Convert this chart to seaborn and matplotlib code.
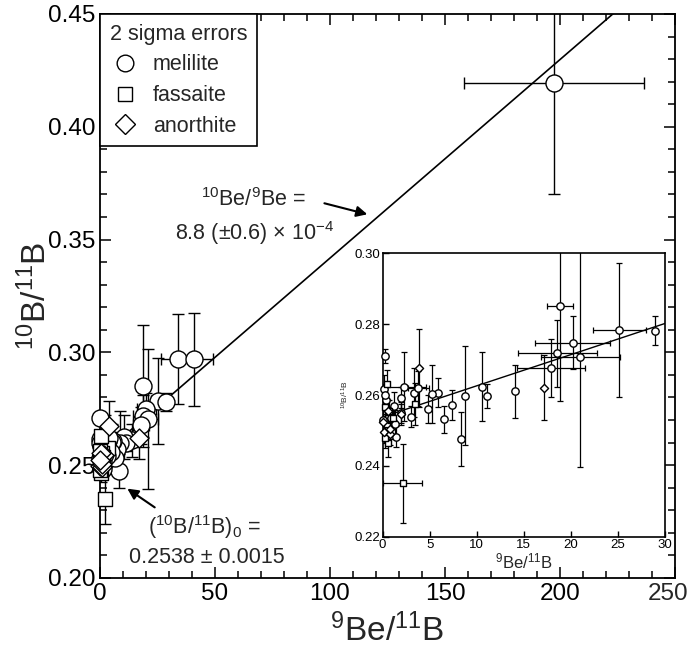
import matplotlib
matplotlib.use("Agg")
import matplotlib.pyplot as plt
import matplotlib.ticker as mticker
from matplotlib.lines import Line2D
import numpy as np
import pandas as pd
import seaborn as sns

# melilite (circles)
mel_x = [0.2, 18.85, 25.15, 28.9, 20.2, 18.56, 20.97, 17.9, 14.03, 10.6, 11.1, 8.8,
         8.36, 7.4, 6.5, 5.85, 5.28, 4.85, 3.33, 3.0, 2.3, 1.95, 1.24, 1.31, 1.38,
         0.18, 0.4, 0.0, 3.8, 0.9, 0.2, 2.0, 33.8, 41.0, 197.4]
mel_y = [0.2711, 0.2852, 0.2784, 0.2782, 0.2748, 0.2718, 0.2706, 0.2677, 0.2610,
         0.2624, 0.2597, 0.2598, 0.2475, 0.2571, 0.2531, 0.2607, 0.2602, 0.2560,
         0.2607, 0.2539, 0.2624, 0.2592, 0.2569, 0.2519, 0.2482, 0.2617, 0.2585,
         0.2530, 0.2619, 0.2535, 0.2600, 0.2550, 0.2969, 0.2969, 0.4193]
mel_xerr = [0, 1.4, 2.85, 0, 4.0, 4.2, 4.2, 3.6, 0, 0, 0, 0, 0, 0, 0, 0, 0, 0, 0, 0,
            2.3, 0, 0, 0, 0, 0, 0, 0, 1.1, 0, 0, 0, 7.3, 8.2, 39.0]
mel_yerr = [0.002, 0.027, 0.019, 0.004, 0.0074, 0.0095, 0.031, 0.0082, 0.0074,
            0.0097, 0.0035, 0.014, 0.0076, 0.0042, 0.0038, 0.0042, 0.0082, 0.0039,
            0.007, 0.003, 0.0097, 0.003, 0.004, 0.004, 0.003, 0.004, 0.004, 0.003,
            0.005, 0.003, 0.003, 0.003, 0.020, 0.0205, 0.049]

# fassaite (squares)
fas_x = [2.13, 3.4, 0.53, 0.2, 1.1, 0.7, 0.2, 0.5]
fas_y = [0.2351, 0.2575, 0.2464, 0.2480, 0.2535, 0.2555, 0.2565, 0.2630]
fas_xerr = [2.1, 0, 0, 0, 0, 0, 0, 0]
fas_yerr = [0.0112, 0.006, 0.004, 0.003, 0.003, 0.003, 0.003, 0.004]

# anorthite (diamonds)
ano_x = [3.86, 17.1, 0.18, 0.8, 0.8, 1.95, 0.6, 0.0]
ano_y = [0.2675, 0.2621, 0.2495, 0.2490, 0.2505, 0.2545, 0.2555, 0.2525]
ano_xerr = [0, 0, 0, 0, 0, 0, 0, 0]
ano_yerr = [0.011, 0.0092, 0.003, 0.003, 0.003, 0.003, 0.003, 0.003]

intercept = 0.2538
panta = 8.8e-4


def tabel(x, y, xe, ye, mineral):
    return pd.DataFrame({"x": x, "y": y, "xerr": xe, "yerr": ye, "mineral": mineral})


df = pd.concat([tabel(mel_x, mel_y, mel_xerr, mel_yerr, "melilite"),
                tabel(fas_x, fas_y, fas_xerr, fas_yerr, "fassaite"),
                tabel(ano_x, ano_y, ano_xerr, ano_yerr, "anorthite")],
               ignore_index=True)
markere = {"melilite": "o", "fassaite": "s", "anorthite": "D"}
marimi = {"melilite": 1.0, "fassaite": 0.75, "anorthite": 0.62}

sns.set_style("ticks")
plt.rcParams['font.family'] = ['Liberation Sans', 'DejaVu Sans']
plt.rcParams['mathtext.fontset'] = 'custom'
plt.rcParams['mathtext.rm'] = 'Liberation Sans'
plt.rcParams['mathtext.it'] = 'Liberation Sans:italic'
plt.rcParams['mathtext.bf'] = 'Liberation Sans:bold'
plt.rcParams['mathtext.default'] = 'regular'


def deseneaza(ax, d, s, capsize, lw_err):
    ax.errorbar(d["x"], d["y"], yerr=d["yerr"], fmt="none", ecolor="black",
                elinewidth=lw_err, capsize=capsize, capthick=lw_err, zorder=2)
    dx = d[d["xerr"] > 0]
    ax.errorbar(dx["x"], dx["y"], xerr=dx["xerr"], fmt="none", ecolor="black",
                elinewidth=lw_err, capsize=capsize, capthick=lw_err, zorder=2)
    for m in ["melilite", "fassaite", "anorthite"]:
        sns.scatterplot(data=d[d["mineral"] == m], x="x", y="y", marker=markere[m],
                        s=s * marimi[m], color="white", edgecolor="black",
                        linewidth=1.0, legend=False, ax=ax, zorder=3, clip_on=False)


fig = plt.figure(figsize=(6.89, 6.5), dpi=100)
ax = fig.add_axes([0.1451, 0.1108, 0.8346, 0.8677])

xl = np.array([0, 250])
ax.plot(xl, intercept + panta * xl, color="black", lw=1.2, zorder=1)
deseneaza(ax, df, 150, 4, 1.0)

ax.set_xlim(0, 250)
ax.set_ylim(0.20, 0.45)
ax.xaxis.set_major_locator(mticker.MultipleLocator(50))
ax.xaxis.set_minor_locator(mticker.MultipleLocator(10))
# eticheta 250 e pusa separat, altfel iese din imagine
ax.xaxis.set_major_formatter(mticker.FuncFormatter(
    lambda v, p: "" if v >= 249 else "%d" % v))
ax.yaxis.set_major_locator(mticker.MultipleLocator(0.05))
ax.yaxis.set_minor_locator(mticker.MultipleLocator(0.01))
ax.yaxis.set_major_formatter(mticker.FormatStrFormatter("%.2f"))
ax.tick_params(which="both", direction="in", top=True, right=True, width=1.1,
               labelsize=17.5, colors="black")
ax.tick_params(which="major", length=8)
ax.tick_params(which="minor", length=5)
for sp in ax.spines.values():
    sp.set_linewidth(1.3)
    sp.set_color("black")
ax.set_xlabel(r"$^{9}$Be/$^{11}$B", fontsize=24, labelpad=6)
ax.set_ylabel(r"$^{10}$B/$^{11}$B", fontsize=24, labelpad=-4)
ax.annotate("250", xy=(1, 0), xycoords="axes fraction", xytext=(9.6, -3.5),
            textcoords="offset points", ha="right", va="top", fontsize=17.5,
            annotation_clip=False)

# legenda
h = [Line2D([], [], marker="o", ls="", mfc="white", mec="black", ms=12, mew=1),
     Line2D([], [], marker="s", ls="", mfc="white", mec="black", ms=10, mew=1),
     Line2D([], [], marker="D", ls="", mfc="white", mec="black", ms=10, mew=1)]
leg = ax.legend(h, ["melilite", "fassaite", "anorthite"], title="2 sigma errors",
                loc="upper left", bbox_to_anchor=(0, 1), borderaxespad=0,
                fancybox=False, edgecolor="black", framealpha=1, fontsize=15.5,
                title_fontsize=15.5, alignment="left", handletextpad=0.6,
                labelspacing=0.45, borderpad=0.45, handlelength=1.4)
leg.get_frame().set_linewidth(1.2)

# adnotari
ax.annotate("", xy=(117.4, 0.3609), xytext=(96.4, 0.3664),
            arrowprops=dict(arrowstyle="-|>", color="black", lw=1.5,
                            mutation_scale=16))
ax.text(66.5, 0.3676, r"$^{10}$Be/$^{9}$Be =", fontsize=15.5, ha="center", va="center")
ax.text(67.4, 0.3529, r"8.8 (±0.6) × 10$^{-4}$", fontsize=15.5, ha="center", va="center")
ax.annotate("", xy=(10.9, 0.2403), xytext=(24.8, 0.2306),
            arrowprops=dict(arrowstyle="-|>", color="black", lw=1.5,
                            mutation_scale=16))
ax.text(45.2, 0.2226, r"($^{10}$B/$^{11}$B)$_0$ =", fontsize=15.5, ha="center", va="center")
ax.text(46.5, 0.2089, "0.2538 ± 0.0015", fontsize=15.5, ha="center", va="center")

# inset
ax2 = fig.add_axes([0.5554, 0.1743, 0.4098, 0.436])
ax2.set_facecolor("white")
di = df[df["x"] <= 30]
xi = np.array([0, 30])
ax2.plot(xi, intercept + panta * xi, color="black", lw=1.0, zorder=1)
deseneaza(ax2, di, 28, 2.5, 0.9)
ax2.set_xlim(0, 30)
ax2.set_ylim(0.22, 0.30)
ax2.xaxis.set_major_locator(mticker.MultipleLocator(5))
ax2.yaxis.set_major_locator(mticker.MultipleLocator(0.02))
ax2.yaxis.set_major_formatter(mticker.FormatStrFormatter("%.2f"))
ax2.tick_params(which="both", direction="in", length=4, width=1, labelsize=9.5,
                pad=2, colors="black")
for sp in ax2.spines.values():
    sp.set_linewidth(1.2)
    sp.set_color("black")
ax2.set_xlabel(r"$^{9}$Be/$^{11}$B", fontsize=12, labelpad=0)
ax2.set_ylabel(r"$^{10}$B/$^{11}$B", fontsize=6, labelpad=2)

fig.savefig("out.png", dpi=100)
